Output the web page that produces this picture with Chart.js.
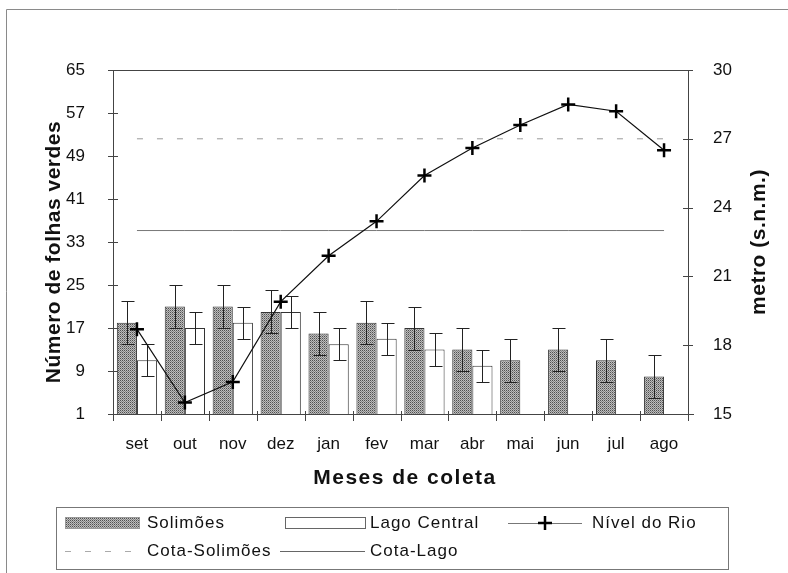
<!DOCTYPE html>
<html>
<head>
<meta charset="utf-8">
<script src="https://cdn.jsdelivr.net/npm/chart.js@4.4.1/dist/chart.umd.min.js"></script>
<style>
  html, body { margin: 0; padding: 0; background: #fff; }
</style>
</head>
<body>
<canvas id="myChart" width="788" height="573"></canvas>
<script>
const meses = ["set", "out", "nov", "dez", "jan", "fev", "mar", "abr", "mai", "jun", "jul", "ago"];
const solimoes = [18, 21, 21, 20, 16, 18, 17, 13, 11, 13, 11, 8];
const solimoesErro = [4, 4, 4, 4, 4, 4, 4, 4, 4, 4, 4, 4];
const lagoCentral = [11, 17, 18, 20, 14, 15, 13, 10, null, null, null, null];
const lagoErro = [3, 3, 3, 3, 3, 3, 3, 3, null, null, null, null];
const nivelRio = [18.7, 15.5, 16.4, 19.9, 21.9, 23.4, 25.4, 26.6, 27.6, 28.5, 28.2, 26.5];
const cotaSolimoes = [27, 27, 27, 27, 27, 27, 27, 27, 27, 27, 27, 27];
const cotaLago = [23, 23, 23, 23, 23, 23, 23, 23, 23, 23, 23, 23];
const folhasEixo = { min: 1, max: 65, step: 8 };
const metroEixo = { min: 15, max: 30, step: 3 };

const FONTE = '"Liberation Sans", Arial, sans-serif';

// textura pontilhada das barras Solimões
function textura() {
    const c = document.createElement('canvas');
    c.width = 2; c.height = 2;
    const g = c.getContext('2d');
    g.fillStyle = '#bdbdbd';
    g.fillRect(0, 0, 2, 2);
    g.fillStyle = '#505050';
    g.fillRect(0, 0, 1, 1);
    g.fillStyle = '#858585';
    g.fillRect(1, 1, 1, 1);
    return g.createPattern(c, 'repeat');
}
const ctx = document.getElementById('myChart').getContext('2d');
const pontos = textura();

function cruz(c, x, y, r, w) {
    c.save();
    c.strokeStyle = '#000';
    c.lineWidth = w;
    c.beginPath();
    c.moveTo(x - r, y); c.lineTo(x + r, y);
    c.moveTo(x, y - r); c.lineTo(x, y + r);
    c.stroke();
    c.restore();
}

const moldura = {
    id: 'moldura',
    beforeDatasetsDraw(chart) {
        const c = chart.ctx, a = chart.chartArea;
        const y = chart.scales.y, y1 = chart.scales.y1, x = chart.scales.x;
        c.save();
        c.strokeStyle = '#444';
        c.lineWidth = 1;
        c.beginPath();
        // contorno da área do gráfico
        c.moveTo(a.left + 0.5, a.top + 0.5); c.lineTo(a.right + 0.5, a.top + 0.5);
        c.moveTo(a.left + 0.5, a.top); c.lineTo(a.left + 0.5, a.bottom + 0.5);
        c.moveTo(a.right + 0.5, a.top); c.lineTo(a.right + 0.5, a.bottom + 0.5);
        c.moveTo(a.left, a.bottom + 0.5); c.lineTo(a.right + 6, a.bottom + 0.5);
        // marcas dos eixos
        y.ticks.forEach(t => {
            const p = Math.round(y.getPixelForValue(t.value)) + 0.5;
            c.moveTo(a.left - 5, p); c.lineTo(a.left + 5, p);
        });
        y1.ticks.forEach(t => {
            const p = Math.round(y1.getPixelForValue(t.value)) + 0.5;
            c.moveTo(a.right - 5, p); c.lineTo(a.right + 5, p);
        });
        const meio = (x.getPixelForValue(1) - x.getPixelForValue(0)) / 2;
        for (let i = 0; i <= meses.length; i++) {
            const p = Math.round(x.getPixelForValue(i) - meio) + 0.5;
            c.moveTo(p, a.bottom - 3); c.lineTo(p, a.bottom + 7);
        }
        c.stroke();
        c.restore();
    },
    afterDatasetDraw(chart, args) {
        const erros = args.index === 0 ? solimoesErro : args.index === 1 ? lagoErro : null;
        if (!erros) return;
        const c = chart.ctx, y = chart.scales.y;
        const valores = chart.data.datasets[args.index].data;
        c.save();
        c.strokeStyle = '#222';
        c.lineWidth = 1;
        c.beginPath();
        args.meta.data.forEach((bar, i) => {
            if (valores[i] == null) return;
            const px = Math.round(bar.x) + 0.5;
            const topo = Math.round(y.getPixelForValue(valores[i] + erros[i])) + 0.5;
            const base = Math.round(y.getPixelForValue(valores[i] - erros[i])) + 0.5;
            c.moveTo(px, topo); c.lineTo(px, base);
            c.moveTo(px - 6, topo); c.lineTo(px + 7, topo);
            c.moveTo(px - 6, base); c.lineTo(px + 7, base);
        });
        c.stroke();
        c.restore();
    },
    afterDraw(chart) {
        const c = chart.ctx;
        c.save();
        // moldura externa
        c.strokeStyle = '#8a8a8a';
        c.lineWidth = 1;
        c.beginPath();
        c.moveTo(6.5, 9.5); c.lineTo(788, 9.5);
        c.moveTo(6.5, 9.5); c.lineTo(6.5, 573);
        c.stroke();

        // títulos dos eixos
        c.fillStyle = '#111';
        c.font = 'bold 21px ' + FONTE;
        c.letterSpacing = '1.5px';
        c.textAlign = 'center';
        c.textBaseline = 'middle';
        c.fillText('Meses de coleta', 405, 478);
        c.letterSpacing = '0.5px';
        c.save();
        c.translate(54, 252);
        c.rotate(-Math.PI / 2);
        c.fillText('Número de folhas verdes', 0, 0);
        c.restore();
        c.save();
        c.translate(759, 242);
        c.rotate(-Math.PI / 2);
        c.fillText('metro (s.n.m.)', 0, 0);
        c.restore();

        // legenda
        c.strokeStyle = '#777';
        c.strokeRect(56.5, 507.5, 672, 62);
        const l1 = 523, l2 = 551;
        c.font = '17px ' + FONTE;
        c.letterSpacing = '1px';
        c.textAlign = 'left';
        c.fillStyle = pontos;
        c.fillRect(65, l1 - 6, 75, 12);
        c.strokeStyle = '#999';
        c.strokeRect(65.5, l1 - 5.5, 74, 11);
        c.strokeStyle = '#666';
        c.strokeRect(285.5, l1 - 5.5, 80, 11);
        c.beginPath();
        c.strokeStyle = '#777';
        c.moveTo(508, l1 + 0.5); c.lineTo(582, l1 + 0.5);
        c.stroke();
        cruz(c, 545, l1, 7, 2.5);
        c.beginPath();
        c.setLineDash([6, 14]);
        c.strokeStyle = '#aaa';
        c.moveTo(65, l2 + 0.5); c.lineTo(140, l2 + 0.5);
        c.stroke();
        c.setLineDash([]);
        c.beginPath();
        c.strokeStyle = '#666';
        c.moveTo(280, l2 + 0.5); c.lineTo(365, l2 + 0.5);
        c.stroke();
        c.fillStyle = '#111';
        c.fillText('Solimões', 147, l1);
        c.fillText('Lago Central', 370, l1);
        c.fillText('Nível do Rio', 592, l1);
        c.fillText('Cota-Solimões', 147, l2);
        c.fillText('Cota-Lago', 370, l2);
        c.restore();
    }
};

const myChart = new Chart(ctx, {
    type: 'bar',
    data: {
        labels: meses,
        datasets: [{
            label: 'Solimões',
            data: solimoes,
            backgroundColor: pontos,
            borderColor: '#333',
            borderWidth: 1,
            yAxisID: 'y',
            order: 2
        }, {
            label: 'Lago Central',
            data: lagoCentral,
            backgroundColor: '#fff',
            borderColor: '#333',
            borderWidth: 1,
            yAxisID: 'y',
            order: 2
        }, {
            type: 'line',
            label: 'Nível do Rio',
            data: nivelRio,
            borderColor: '#111',
            borderWidth: 1.2,
            pointStyle: 'cross',
            pointRadius: 7,
            pointBorderWidth: 2.5,
            pointBorderColor: '#000',
            tension: 0,
            yAxisID: 'y1',
            order: 1
        }, {
            type: 'line',
            label: 'Cota-Solimões',
            data: cotaSolimoes,
            borderColor: '#999',
            borderWidth: 1,
            borderDash: [6, 14],
            pointRadius: 0,
            yAxisID: 'y1',
            order: 1
        }, {
            type: 'line',
            label: 'Cota-Lago',
            data: cotaLago,
            borderColor: '#777',
            borderWidth: 1,
            pointRadius: 0,
            yAxisID: 'y1',
            order: 1
        }]
    },
    options: {
        responsive: false,
        animation: false,
        layout: { padding: { left: 0, right: 0, top: 70, bottom: 0 } },
        plugins: {
            legend: { display: false },
            tooltip: { enabled: false }
        },
        datasets: {
            bar: { categoryPercentage: 0.84, barPercentage: 1 }
        },
        scales: {
            x: {
                grid: { display: false },
                border: { display: false },
                ticks: { color: '#111', padding: 12, font: { family: FONTE, size: 17 } },
                afterFit: s => { s.height = 159; }
            },
            y: {
                position: 'left',
                min: folhasEixo.min,
                max: folhasEixo.max,
                grid: { display: false },
                border: { display: false },
                ticks: { stepSize: folhasEixo.step, color: '#111', padding: 20, font: { family: FONTE, size: 17 } },
                afterFit: s => { s.width = 113; }
            },
            y1: {
                position: 'right',
                min: metroEixo.min,
                max: metroEixo.max,
                grid: { display: false },
                border: { display: false },
                ticks: { stepSize: metroEixo.step, color: '#111', padding: 17, font: { family: FONTE, size: 17 } },
                afterFit: s => { s.width = 100; }
            }
        }
    },
    plugins: [moldura]
});
</script>
</body>
</html>
